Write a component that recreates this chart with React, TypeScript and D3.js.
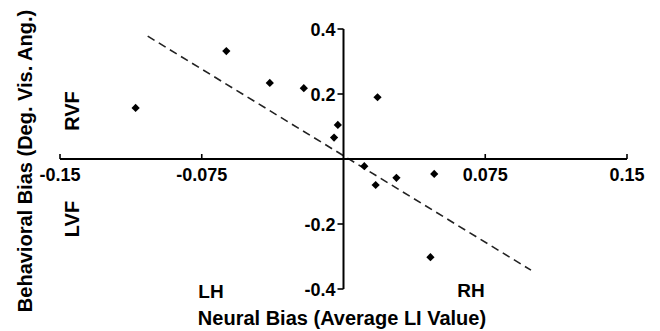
import React from "react";
import * as d3 from "d3";

const neuralBias = [-0.110, -0.062, -0.039, -0.021, 0.018, -0.003, -0.005, 0.011, 0.017, 0.028, 0.048, 0.046];
const behavioralBias = [0.157, 0.332, 0.234, 0.218, 0.190, 0.105, 0.066, -0.022, -0.080, -0.058, -0.046, -0.302];
const fitX = [-0.1036, 0.0992];
const fitY = [0.378, -0.342];
const xTicks = [-0.15, -0.075, 0.075, 0.15];
const xTickLabels = ["-0.15", "-0.075", "0.075", "0.15"];
const yTicks = [0.4, 0.2, -0.2, -0.4];
const yTickLabels = ["0.4", "0.2", "-0.2", "-0.4"];

const W = 660;
const H = 331;
const FONT = "'Liberation Sans', Arial, Helvetica, sans-serif";

export default function App() {
  const x = d3.scaleLinear().domain([-0.15, 0.15]).range([60, 627]);
  const y = d3.scaleLinear().domain([-0.4, 0.4]).range([289, 29]);
  const x0 = x(0);
  const y0 = y(0);
  const line = d3
    .line<number>()
    .x((_, i) => x(fitX[i]))
    .y((d) => y(d));
  const diamond = d3.symbol().type(d3.symbolSquare).size(34)();

  return (
    <svg
      width={W}
      height={H}
      style={{ position: "absolute", left: 0, top: 0, background: "#fff" }}
      fontFamily={FONT}
      fontWeight="bold"
    >
      <rect x={0} y={0} width={W} height={H} fill="#fff" />
      {/* regression line */}
      <path d={line(fitY) || ""} fill="none" stroke="#222" strokeWidth={1.6} strokeDasharray="8,5" />
      {/* x axis */}
      <line x1={x(-0.15)} x2={x(0.15)} y1={y0} y2={y0} stroke="#000" strokeWidth={2} />
      {xTicks.map((t, i) => (
        <g key={"xt" + i}>
          <line x1={x(t)} x2={x(t)} y1={y0} y2={y0 - 5} stroke="#000" strokeWidth={1.6} />
          <text x={x(t)} y={181} fontSize={18} textAnchor="middle" fill="#000">
            {xTickLabels[i]}
          </text>
        </g>
      ))}
      {/* y axis */}
      <line x1={x0} x2={x0} y1={y(0.4)} y2={y(-0.4)} stroke="#000" strokeWidth={2} />
      {yTicks.map((t, i) => (
        <g key={"yt" + i}>
          <line x1={x0} x2={x0 - 6} y1={y(t)} y2={y(t)} stroke="#000" strokeWidth={1.6} />
          <text x={x0 - 8} y={y(t) + 6.5} fontSize={18} textAnchor="end" fill="#000">
            {yTickLabels[i]}
          </text>
        </g>
      ))}
      {/* points */}
      {neuralBias.map((v, i) => (
        <path
          key={"p" + i}
          d={diamond || ""}
          transform={`translate(${x(v)},${y(behavioralBias[i])}) rotate(45)`}
          fill="#000"
        />
      ))}
      {/* labels */}
      <text x={342} y={325} fontSize={20} textAnchor="middle" fill="#000">
        Neural Bias (Average LI Value)
      </text>
      <text transform="translate(32,161) rotate(-90)" fontSize={20} textAnchor="middle" fill="#000">
        Behavioral Bias (Deg. Vis. Ang.)
      </text>
      <text transform="translate(79,111) rotate(-90)" fontSize={20} textAnchor="middle" fill="#000">
        RVF
      </text>
      <text transform="translate(79,219) rotate(-90)" fontSize={20} textAnchor="middle" fill="#000">
        LVF
      </text>
      <text x={211} y={298} fontSize={19} textAnchor="middle" fill="#000">
        LH
      </text>
      <text x={471} y={297} fontSize={19} textAnchor="middle" fill="#000">
        RH
      </text>
    </svg>
  );
}
